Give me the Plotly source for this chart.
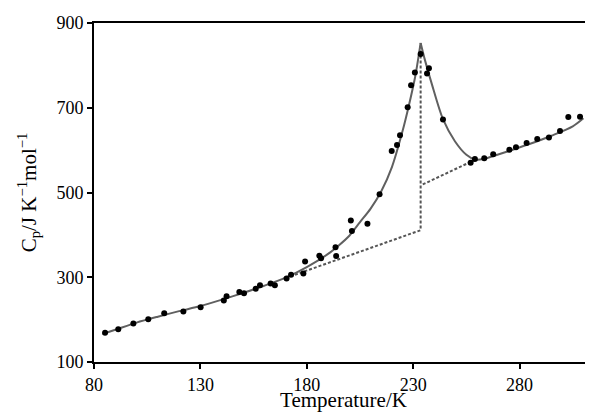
import plotly.graph_objects as go

# Experimental points (T / K, Cp / J K-1 mol-1)
exp_T = [85.2, 91.4, 98.5, 105.5, 113, 122, 130.1, 141, 142.3, 148.3, 150.5, 156, 158, 163, 165,
         170.5, 172.6, 178.4, 179.2, 185.9, 186.7, 193.5, 193.8, 200.7, 201.2, 208.5, 214.2,
         219.9, 222.4, 223.8, 227.4, 229, 230.8, 233.5, 236.5, 237.4, 244, 257, 259, 263.4,
         267.6, 275.2, 278.3, 283.3, 288.3, 293.8, 299, 302.9, 308.4]
exp_Cp = [169, 177, 191, 201, 215, 219, 229, 245, 255, 265, 262, 273, 281, 285, 281,
          297, 306, 309, 337, 351, 345, 371, 350, 434, 409, 426, 496,
          598, 612, 635, 701, 753, 783, 827, 781, 793, 672, 570, 579, 581,
          590, 601, 607, 617, 626, 630, 645, 678, 679]

# Smoothed curve, below the transition
fit_lo_T = [84, 90, 100, 110, 120, 130, 140, 150, 160, 170, 180, 190, 195, 200, 205, 210,
            215, 220, 225, 228, 231, 233.5]
fit_lo_Cp = [166, 176, 193, 207, 220, 232, 247, 263, 280, 299, 324, 355, 375, 398, 430, 462,
             503, 560, 645, 706, 775, 853]
# Smoothed curve, above the transition
fit_hi_T = [233.5, 235.5, 238.7, 244, 249.6, 255, 259, 263, 267, 275, 285, 295, 305, 310]
fit_hi_Cp = [853, 813, 757, 673, 621, 589, 578, 579, 585, 598, 615, 634, 656, 675]

# Baselines (dotted)
base_lo_T = [170, 233.5, 233.5]
base_lo_Cp = [298, 411, 853]
base_hi_T = [234.5, 259]
base_hi_Cp = [519, 577]

x_ticks = [80, 130, 180, 230, 280]
y_ticks = [100, 300, 500, 700, 900]

fig = go.Figure()
dot_style = dict(color="#555555", width=2, dash="3px,2px")
fig.add_trace(go.Scatter(x=base_lo_T, y=base_lo_Cp, mode="lines", line=dot_style, showlegend=False))
fig.add_trace(go.Scatter(x=base_hi_T, y=base_hi_Cp, mode="lines", line=dot_style, showlegend=False))
solid = dict(color="#606060", width=2, shape="spline", smoothing=0.8)
fig.add_trace(go.Scatter(x=fit_lo_T, y=fit_lo_Cp, mode="lines", line=solid, showlegend=False))
fig.add_trace(go.Scatter(x=fit_hi_T, y=fit_hi_Cp, mode="lines", line=solid, showlegend=False))
fig.add_trace(go.Scatter(x=exp_T, y=exp_Cp, mode="markers",
                         marker=dict(color="black", size=6, symbol="circle"), showlegend=False))

serif = "Liberation Serif, Times New Roman, serif"
fig.update_layout(
    width=585, height=404,
    margin=dict(l=86, r=0, t=15, b=47),
    paper_bgcolor="white", plot_bgcolor="white",
    font=dict(family=serif, size=18, color="black"),
    xaxis=dict(range=[80, 314.5], tickmode="array", tickvals=x_ticks,
               showgrid=False, zeroline=False, showline=True, linecolor="black", linewidth=2,
               mirror=True, ticks="outside", ticklen=5, tickwidth=1.5, tickcolor="black",
               tickfont=dict(family=serif, size=18, color="black"),
               title=dict(text="Temperature/K", font=dict(family=serif, size=21, color="black"),
                          standoff=3)),
    yaxis=dict(range=[100, 900], tickmode="array", tickvals=y_ticks,
               showgrid=False, zeroline=False, showline=True, linecolor="black", linewidth=2,
               ticks="outside", ticklen=5, tickwidth=1.5, tickcolor="black",
               tickfont=dict(family=serif, size=18, color="black"),
               title=dict(text="C<sub>p</sub>/J K<sup>−1</sup>mol<sup>−1</sup>",
                          font=dict(family=serif, size=21, color="black"), standoff=14)),
)

fig.write_html("out.html")
